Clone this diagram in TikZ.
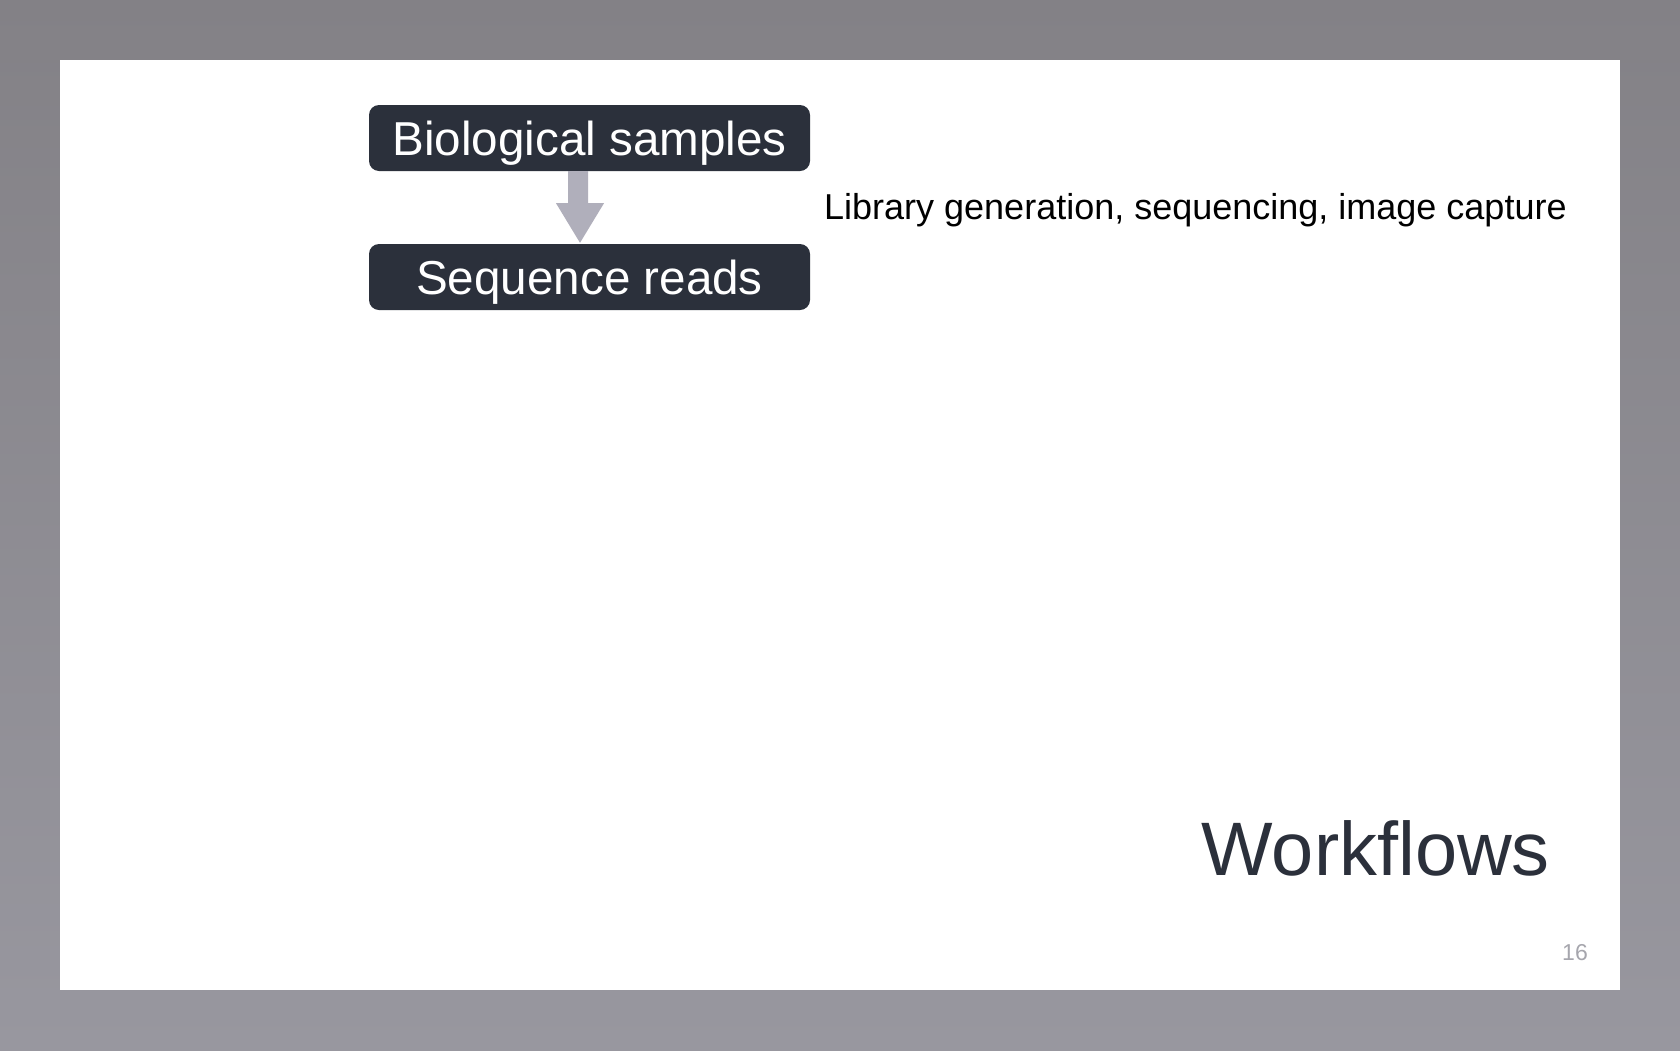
\documentclass[tikz,border=0pt]{standalone}
\usepackage{fontspec}
\setmainfont{Liberation Sans}
\usetikzlibrary{calc}
\definecolor{bgtop}{HTML}{838186}
\definecolor{bgbot}{HTML}{98979F}
\definecolor{boxc}{HTML}{2B303B}
\definecolor{arrowc}{HTML}{B0AFBB}
\definecolor{numc}{HTML}{A6A6AD}
\tikzset{
  stepbox/.style={fill=boxc, rounded corners=10pt, minimum width=441pt, minimum height=66pt,
    inner sep=0pt, text=white, text height=34pt, text depth=0pt,
    font=\fontsize{47.6}{50}\selectfont},
}
\begin{document}
\begin{tikzpicture}[x=1pt,y=-1pt]
\useasboundingbox (0,0) rectangle (1680,1050);
\shade[top color=bgtop, bottom color=bgbot] (0,0) rectangle (1680,1050);
\fill[white] (60,60) rectangle (1620,990);
\node[stepbox] (bio) at (589.5,138) {Biological samples};
\node[stepbox] (seq) at (589.5,277) {Sequence reads};
\fill[arrowc] ($(bio.south)+(-21.5,0)$) -- ($(bio.south)+(-1.5,0)$) -- ($(bio.south)+(-1.5,32)$)
  -- ($(bio.south)+(14.5,32)$) -- ($(seq.north)+(-9.5,-1)$) -- ($(bio.south)+(-33.5,32)$)
  -- ($(bio.south)+(-21.5,32)$) -- cycle;
\node[anchor=base west, inner sep=0pt, font=\fontsize{36}{40}\selectfont] (lab) at (824,219) {Library generation, sequencing, image capture};
\node[anchor=base west, inner sep=0pt, text=boxc, font=\fontsize{75.8}{80}\selectfont] (title) at (1201.5,875) {Workflows};
\node[anchor=base east, inner sep=0pt, text=numc, font=\fontsize{23}{25}\selectfont] (num) at (1588,960) {16};
\end{tikzpicture}
\end{document}
